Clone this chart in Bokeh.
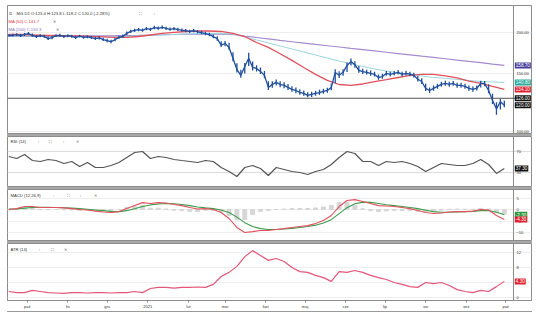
import pandas as pd
from bokeh.plotting import figure
from bokeh.layouts import column
from bokeh.models import Range1d, FixedTicker, PrintfTickFormatter, Label, Span, Div
from bokeh.embed import file_html
from bokeh.resources import INLINE

FONT = "Liberation Sans"

# ---------------- data ----------------
price_start = "2020-09-17"   # one bar every 3 days
close = [195.8, 196.0, 197.0, 195.5, 197.3, 198.5, 195.9, 194.2, 195.6, 194.5,
         191.6, 193.0, 195.7, 196.1, 194.3, 195.5, 194.6, 193.0, 194.8, 193.2,
         194.0, 192.8, 191.5, 192.6, 190.2, 188.9, 187.5, 190.0, 193.2, 194.6,
         198.8, 201.6, 202.9, 204.0, 203.0, 205.5, 204.3, 207.0, 206.0, 207.4,
         205.8, 204.5, 205.6, 204.1, 203.2, 202.5, 201.5, 202.6, 201.0, 199.8,
         198.5, 197.0, 194.3, 191.5, 182.8, 185.2, 180.0, 166.9, 154.3, 148.0,
         157.5, 166.9, 156.5, 155.4, 152.2, 148.0, 136.0, 138.9, 140.9, 138.9,
         137.9, 136.0, 134.2, 133.1, 131.4, 130.4, 128.6, 129.4, 130.4, 131.2,
         132.2, 133.1, 136.0, 151.1, 148.0, 151.2, 158.7, 163.0, 159.5, 153.3,
         152.0, 151.1, 150.0, 149.0, 145.8, 146.8, 150.0, 149.0, 150.0, 151.1,
         149.0, 150.1, 149.2, 148.0, 144.0, 141.8, 135.0, 133.1, 135.0, 137.0,
         138.9, 139.8, 138.9, 139.8, 137.9, 137.9, 137.0, 135.0, 134.1, 135.2,
         139.8, 139.8, 133.1, 124.1, 117.0, 123.0, 120.0]
high = [198.0, 198.2, 199.0, 197.8, 199.2, 200.6, 198.4, 196.5, 197.6, 196.8,
        194.5, 195.2, 197.5, 198.3, 196.6, 197.4, 196.8, 195.4, 196.7, 195.5,
        196.2, 195.0, 193.8, 194.6, 192.8, 191.5, 190.0, 192.3, 195.4, 197.2,
        201.3, 204.0, 205.3, 206.5, 205.6, 208.0, 206.8, 209.5, 208.5, 209.9,
        208.3, 207.0, 208.0, 206.6, 205.7, 205.0, 204.0, 205.0, 203.4, 202.3,
        201.0, 199.6, 197.2, 194.8, 188.0, 188.5, 186.0, 174.0, 161.0, 154.0,
        161.5, 173.5, 163.0, 159.0, 156.5, 152.5, 142.0, 142.0, 143.8, 142.0,
        141.0, 139.2, 137.0, 136.0, 134.2, 133.0, 131.5, 132.0, 132.8, 133.8,
        134.8, 135.6, 139.5, 154.5, 152.2, 154.6, 162.0, 166.5, 163.5, 158.0,
        155.0, 154.0, 153.0, 151.8, 149.0, 149.6, 152.6, 151.7, 152.6, 153.8,
        151.7, 152.8, 151.8, 150.8, 147.2, 145.0, 139.5, 136.0, 137.8, 139.6,
        141.4, 142.4, 141.4, 142.3, 140.5, 140.4, 139.6, 137.8, 136.8, 137.9,
        142.5, 142.2, 139.0, 130.0, 122.5, 125.5, 123.8]
low = [194.0, 194.3, 195.0, 193.8, 195.2, 196.4, 194.2, 192.4, 193.5, 192.6,
       189.8, 190.8, 193.6, 194.0, 192.5, 193.5, 192.8, 191.2, 192.9, 191.4,
       192.1, 190.9, 189.6, 190.5, 188.3, 186.8, 185.4, 187.9, 191.0, 192.5,
       196.4, 199.2, 200.8, 201.8, 200.9, 203.2, 202.1, 204.6, 203.7, 205.1,
       203.6, 202.3, 203.3, 201.9, 201.0, 200.3, 199.3, 200.4, 198.8, 197.6,
       196.2, 194.7, 192.0, 188.6, 180.5, 181.6, 177.2, 163.5, 151.0, 145.5,
       150.0, 158.0, 153.2, 152.0, 149.4, 145.0, 133.5, 135.6, 137.8, 136.2,
       135.3, 133.6, 131.8, 130.6, 129.2, 128.2, 126.8, 127.2, 128.3, 129.0,
       130.0, 130.9, 133.4, 140.0, 145.3, 147.5, 151.5, 158.5, 156.2, 150.6,
       149.5, 148.8, 147.6, 146.7, 143.6, 144.5, 147.5, 146.7, 147.8, 148.8,
       146.8, 147.8, 147.0, 145.7, 141.8, 139.4, 132.6, 130.8, 132.8, 134.8,
       136.6, 137.6, 136.6, 137.5, 135.7, 135.6, 134.7, 132.8, 131.9, 133.0,
       136.0, 137.0, 130.5, 121.0, 112.3, 116.5, 118.2]

ma_start = "2020-09-17"      # one value every 9 days
ma50 = [197.2, 197.2, 196.5, 195.8, 195.8, 195.1, 195.1, 194.4, 193.8, 193.1,
        193.1, 194.4, 196.5, 198.6, 200.0, 201.4, 202.1, 202.1, 201.4, 198.6,
        194.4, 186.4, 180.1, 172.3, 164.4, 156.4, 149.0, 142.8, 138.8, 137.9,
        139.3, 141.7, 143.7, 145.8, 147.9, 149.0, 149.0, 147.4, 145.3, 142.2,
        139.8, 136.9, 134.1]
ma100 = [195.1, 195.1, 195.1, 195.0, 195.0, 194.8, 194.8, 194.7, 194.4, 194.2,
         194.4, 195.1, 195.8, 196.5, 197.2, 197.9, 198.3, 198.6, 198.6, 197.9,
         193.8, 189.8, 185.8, 181.9, 178.1, 174.3, 170.7, 167.1, 163.6, 160.6,
         157.6, 154.8, 152.6, 150.5, 148.9, 147.4, 145.8, 144.9, 143.8, 142.8,
         141.8, 141.3, 140.8]
ma200 = [194.4, 194.4, 194.4, 194.4, 194.7, 195.0, 195.1, 195.3, 195.4, 195.5,
         195.8, 196.1, 196.5, 196.8, 197.2, 197.5, 197.8, 197.9, 197.8, 197.2,
         195.1, 193.1, 191.1, 189.1, 187.4, 185.7, 183.9, 182.2, 180.6, 178.9,
         177.3, 175.7, 174.1, 172.5, 170.9, 169.3, 167.8, 166.3, 164.7, 163.2,
         161.8, 160.2, 158.7]
hline_price = 126.0

ind_start = "2020-09-17"     # one value every 6 days
rsi = [60.8, 56.9, 64.7, 52.9, 51.0, 54.9, 52.9, 47.1, 51.0, 41.2,
       49.0, 39.2, 39.2, 43.1, 49.0, 58.8, 68.6, 70.6, 56.9, 60.8,
       58.8, 54.9, 52.9, 51.0, 49.0, 52.9, 51.0, 39.2, 31.4, 21.6,
       39.2, 43.1, 37.3, 23.5, 39.2, 35.3, 31.4, 29.4, 25.5, 31.4,
       35.3, 45.1, 58.8, 70.6, 66.7, 51.0, 51.0, 43.1, 51.0, 49.0,
       51.0, 47.1, 41.2, 31.4, 39.2, 47.1, 45.1, 43.1, 43.1, 47.1,
       54.9, 45.1, 27.5, 37.3]
macd = [0.0, 0.4, 1.3, 1.3, 0.9, 0.9, 0.9, 0.7, 0.4, 0.0,
        -0.2, -0.7, -1.1, -1.3, -0.9, 0.4, 1.7, 3.0, 2.6, 3.0,
        2.8, 2.2, 1.7, 0.9, 0.2, 0.4, 0.0, -1.3, -3.9, -7.8,
        -10.0, -9.6, -9.1, -9.1, -8.7, -8.3, -7.8, -7.4, -7.0, -6.1,
        -4.8, -2.6, 1.3, 3.9, 4.3, 3.5, 2.6, 1.7, 1.5, 1.3,
        0.9, 0.4, -0.4, -1.3, -1.7, -1.5, -1.1, -0.9, -0.9, -0.7,
        0.0, -0.2, -2.6, -4.3]
signal = [0.2, 0.3, 0.6, 0.9, 1.0, 1.0, 0.9, 0.8, 0.6, 0.4,
          0.1, -0.2, -0.5, -0.8, -0.9, -0.5, 0.3, 1.3, 2.0, 2.4,
          2.6, 2.5, 2.2, 1.7, 1.1, 0.7, 0.4, -0.2, -1.3, -3.3,
          -5.7, -7.4, -8.3, -8.7, -8.7, -8.5, -8.2, -7.8, -7.4, -6.8,
          -5.9, -4.4, -1.8, 0.8, 2.5, 3.2, 3.1, 2.6, 2.1, 1.7,
          1.3, 0.9, 0.4, -0.3, -0.9, -1.2, -1.2, -1.1, -1.0, -0.8,
          -0.5, -0.4, -1.2, -2.3]
atr = [1.6, 1.3, 1.3, 1.9, 1.6, 1.3, 1.2, 1.1, 1.3, 1.3,
       1.2, 1.3, 1.3, 1.2, 1.3, 1.3, 1.6, 1.3, 2.4, 2.7,
       2.7, 2.5, 2.7, 2.7, 2.8, 2.7, 3.5, 5.6, 6.7, 8.3,
       10.9, 12.5, 11.2, 9.9, 10.4, 9.6, 8.0, 6.9, 6.7, 5.9,
       5.3, 4.3, 6.9, 6.7, 7.2, 6.7, 5.9, 5.3, 4.8, 4.0,
       3.5, 2.9, 2.7, 4.0, 3.7, 4.0, 3.2, 2.1, 1.6, 1.3,
       1.9, 1.6, 2.9, 4.3]

month_ticks = ["2020-10-01", "2020-11-01", "2020-12-01", "2021-01-01", "2021-02-01",
               "2021-03-01", "2021-04-01", "2021-05-01", "2021-06-01", "2021-07-01",
               "2021-08-01", "2021-09-01", "2021-10-01"]
month_labels = ["paź", "lis", "gru", "2021", "lut", "mar", "kwi", "maj", "cze",
                "lip", "sie", "wrz", "paź"]

header = "MG D1 O:123.4 H:123.8 L:118.2 C:120.0 (-2.28%)"

# ---------------- build ----------------
pdates = pd.date_range(price_start, periods=len(close), freq="3D")
mdates = pd.date_range(ma_start, periods=len(ma50), freq="9D")
idates = pd.date_range(ind_start, periods=len(rsi), freq="6D")
hist = [m - s for m, s in zip(macd, signal)]

FW = 524                       # frame incl. the price-scale strip
PLOT_W = 506                   # width of the chart area left of the scale strip
x0 = pd.Timestamp("2020-09-16")
x_edge = pd.Timestamp("2021-10-07")              # chart / scale separation
x_end = x0 + (x_edge - x0) * (FW / PLOT_W)
xr = Range1d(x0, x_end)
edge_ms = x_edge.value // 10**6
box_ms = edge_ms + 1 * 24 * 3600 * 1000
GRAY = "#8c8c8c"


def make_fig(fh, yr, top, bottom_axis, log=False):
    p = figure(frame_width=FW, frame_height=fh, x_range=xr, y_range=yr,
               x_axis_type="datetime", y_axis_type="log" if log else "linear",
               x_axis_location="below" if bottom_axis else None,
               y_axis_location="right", toolbar_location=None,
               output_backend="svg", min_border_left=7, min_border_right=1,
               min_border_top=top, min_border_bottom=10 if bottom_axis else 0,
               outline_line_color=GRAY, background_fill_color="white",
               border_fill_color="white")
    ax = p.yaxis[0]
    ax.major_label_text_font = FONT
    ax.major_label_text_font_size = "4px"
    ax.major_label_text_color = "#333333"
    ax.major_tick_out = 0
    ax.major_tick_in = 0
    ax.major_tick_line_color = None
    ax.minor_tick_line_color = None
    ax.axis_line_color = None
    ax.major_label_standoff = -15
    p.xgrid.grid_line_color = None
    p.ygrid.grid_line_color = "#eeeeee"
    p.add_layout(Span(location=edge_ms, dimension="height", line_color=GRAY, line_width=1))
    return p


def box(p, y, text, color):
    p.add_layout(Label(x=box_ms, y=y, text=text,
                       text_font=FONT, text_font_size="4.6px", text_color="white",
                       text_baseline="middle", text_align="left",
                       background_fill_color=color, padding=1))


def title(p, y, parts):
    for x, txt, col in parts:
        p.add_layout(Label(x=x, y=y, x_units="screen", y_units="screen", text=txt,
                           text_font=FONT, text_font_size="4.2px",
                           text_color=col, text_baseline="middle"))


# price panel
p1 = make_fig(129, Range1d(97.7, 241.7), 5, False, log=True)
p1.yaxis[0].ticker = FixedTicker(ticks=[100, 150, 200])
p1.yaxis[0].formatter = PrintfTickFormatter(format="%.2f")
p1.ygrid.ticker = FixedTicker(ticks=[100, 150, 200])
p1.line(mdates, ma200, color="#a58bcf", line_width=1.2)
p1.line(mdates, ma100, color="#9bd6dc", line_width=1.0)
p1.line(mdates, ma50, color="#e2505c", line_width=1.3)
p1.segment(pdates, low, pdates, high, color="#1f4f9e", line_width=1.3)
p1.line(pdates, close, color="#1f4f9e", line_width=1.3)
p1.add_layout(Span(location=hline_price, dimension="width", line_color="#555555", line_width=1))
box(p1, ma200[-1], f"{ma200[-1]:.2f}", "#4a3f9c")
box(p1, ma100[-1], f"{ma100[-1]:.2f}", "#27a99b")
box(p1, ma50[-1], f"{ma50[-1]:.2f}", "#e0202e")
box(p1, hline_price, f"{hline_price:.2f}", "#111111")
box(p1, close[-1], f"{close[-1]:.2f}", "#111111")
title(p1, 121.5, [(1, "⧉", "#666666"), (9, header, "#333333"),
                  (131, "⛶", "#666666"), (146, "↓", "#666666")])
title(p1, 113.5, [(1, "MA (50) C 141.7", "#e0303c"), (45, "✕", "#555555")])
title(p1, 105, [(1, "MA (200) C 155.3", "#8a6fc0"), (48, "✕", "#555555")])


def sep():
    return Div(text="", width=525, height=2, margin=(0, 0, 0, 7),
               styles={"background-color": "#a8a8a8"})


# RSI
p2 = make_fig(51, Range1d(0, 100), 0, False)
p2.yaxis[0].ticker = FixedTicker(ticks=[30, 70])
p2.ygrid.ticker = FixedTicker(ticks=[30, 70])
p2.ygrid.grid_line_color = "#dcdcdc"
p2.line(idates, rsi, color="#555555", line_width=1.2)
box(p2, rsi[-1], f"{rsi[-1]:.2f}", "#111111")
title(p2, 46.5, [(3, "RSI (14)", "#333333"), (30, "↑", "#666666"), (41, "⛶", "#666666"),
                 (55, "↓", "#666666"), (68, "✕", "#666666")])

# MACD
p3 = make_fig(52, Range1d(-13.9, 8.7), 0, False)
p3.yaxis[0].ticker = FixedTicker(ticks=[-10, -5, 0, 5])
p3.ygrid.ticker = FixedTicker(ticks=[-10, -5, 0, 5])
p3.vbar(x=idates, top=hist, bottom=0, width=3 * 24 * 3600 * 1000, color="#d6d6d6")
p3.line(idates, signal, color="#3c9c4c", line_width=1.1)
p3.line(idates, macd, color="#e2505c", line_width=1.1)
box(p3, signal[-1], f"{signal[-1]:.2f}", "#2f9a3c")
box(p3, macd[-1], f"{macd[-1]:.2f}", "#e0202e")
title(p3, 46.5, [(3, "MACD (12,26,9)", "#333333"), (45, "↑", "#666666"), (59, "⛶", "#666666"),
                 (72, "↓", "#666666"), (86, "✕", "#666666")])

# ATR
p4 = make_fig(57, Range1d(-0.8, 14.4), 0, True)
p4.yaxis[0].ticker = FixedTicker(ticks=[0, 4, 8, 12])
p4.ygrid.ticker = FixedTicker(ticks=[0, 4, 8, 12])
p4.line(idates, atr, color="#e4567a", line_width=1.2)
box(p4, atr[-1], f"{atr[-1]:.2f}", "#e0202e")
title(p4, 51, [(3, "ATR (14)", "#333333"), (31, "↑", "#666666"), (43, "⛶", "#666666"),
               (56, "✕", "#666666")])
tick_ms = [pd.Timestamp(d).value // 10**6 for d in month_ticks]
xa = p4.xaxis[0]
xa.ticker = FixedTicker(ticks=tick_ms)
xa.major_label_overrides = {t: l for t, l in zip(tick_ms, month_labels)}
xa.major_label_text_font = FONT
xa.major_label_text_font_size = "4px"
xa.major_label_text_color = "#333333"
xa.major_tick_out = 2
xa.major_tick_in = 0
xa.minor_tick_line_color = None
xa.axis_line_color = GRAY
xa.major_tick_line_color = GRAY
xa.major_label_standoff = 1

bottom_line = Div(text="", width=525, height=1, margin=(0, 0, 0, 7),
                  styles={"background-color": "#9a9a9a"})

layout = column(p1, sep(), p2, sep(), p3, sep(), p4, bottom_line, spacing=0)
open("out.html", "w").write(file_html(layout, INLINE))
